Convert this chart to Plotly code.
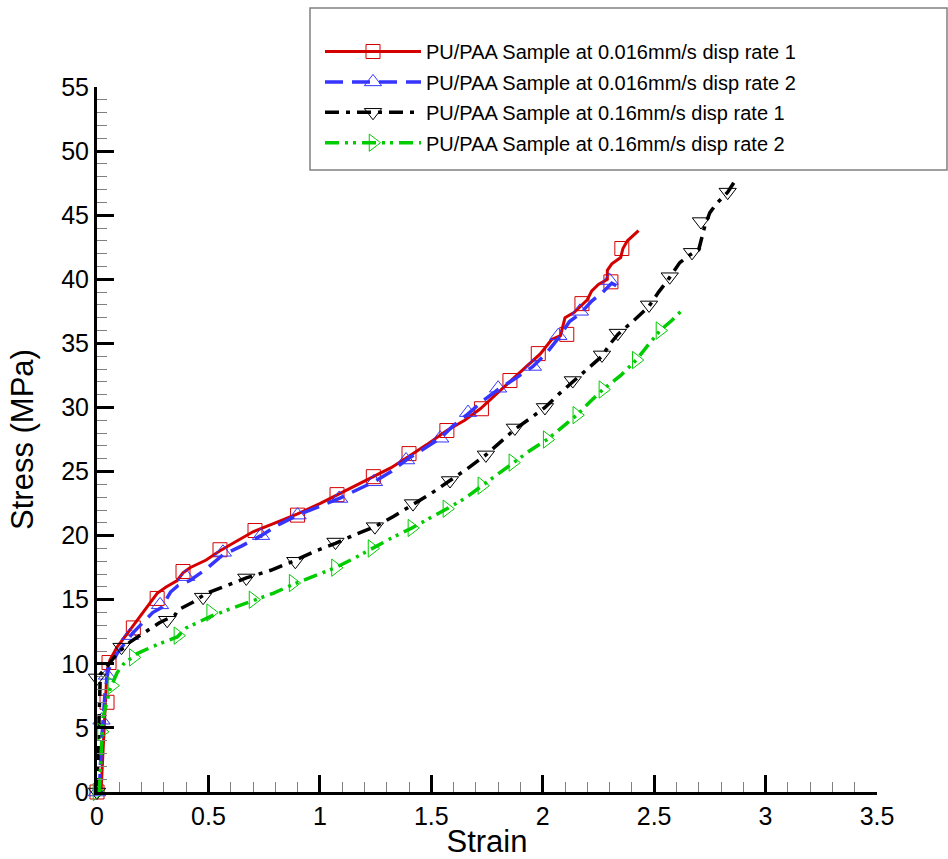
import plotly.graph_objects as go

# ---------------- data ----------------
names = [
    "PU/PAA Sample at 0.016mm/s disp rate 1",
    "PU/PAA Sample at 0.016mm/s disp rate 2",
    "PU/PAA Sample at 0.16mm/s disp rate 1",
    "PU/PAA Sample at 0.16mm/s disp rate 2",
]

red_strain = [0.018, 0.022, 0.027, 0.036, 0.045, 0.058, 0.09, 0.125, 0.16, 0.215, 0.27, 0.31, 0.36,
              0.386, 0.417, 0.49, 0.55, 0.62, 0.70, 0.80, 0.90, 1.00, 1.08, 1.16, 1.24, 1.32, 1.40,
              1.48, 1.57, 1.65, 1.72, 1.79, 1.85, 1.92, 1.99, 2.04, 2.08, 2.10, 2.14, 2.20, 2.22,
              2.25, 2.29, 2.29, 2.31, 2.35, 2.36, 2.38, 2.43]
red_stress = [0.0, 1.5, 3.5, 7.2, 9.5, 10.3, 11.3, 12.1, 12.9, 14.2, 15.5, 16.0, 16.5,
              17.1, 17.5, 18.1, 18.8, 19.5, 20.3, 21.0, 21.7, 22.5, 23.2, 23.9, 24.6, 25.3, 26.2,
              27.1, 28.2, 29.0, 29.9, 31.0, 32.0, 33.1, 34.2, 35.3, 35.6, 37.0, 37.4, 38.4, 39.1,
              39.6, 40.0, 40.7, 41.2, 41.7, 42.4, 43.0, 43.8]
red_mk_strain = [0.0, 0.045, 0.054, 0.163, 0.27, 0.386, 0.552, 0.709, 0.90, 1.077, 1.24, 1.40,
                 1.57, 1.725, 1.853, 1.98, 2.108, 2.176, 2.306, 2.355]
red_mk_stress = [0.0, 7.0, 10.1, 12.8, 15.1, 17.2, 18.9, 20.4, 21.6, 23.2, 24.6, 26.4,
                 28.2, 29.9, 32.1, 34.2, 35.7, 38.1, 39.8, 42.4]

blue_strain = [0.01, 0.02, 0.036, 0.05, 0.09, 0.16, 0.25, 0.29, 0.33, 0.363, 0.417, 0.49, 0.565,
               0.65, 0.736, 0.82, 0.90, 1.00, 1.087, 1.17, 1.243, 1.32, 1.387, 1.46, 1.54, 1.60,
               1.665, 1.73, 1.80, 1.88, 1.956, 2.02, 2.07, 2.12, 2.167, 2.22, 2.27, 2.31, 2.33]
blue_stress = [0.0, 3.8, 7.7, 9.5, 10.8, 12.4, 14.0, 14.4, 15.6, 16.1, 16.5, 17.4, 18.5,
               19.2, 20.0, 20.9, 21.6, 22.3, 22.9, 23.6, 24.2, 25.0, 25.9, 26.7, 27.6, 28.6,
               29.5, 30.5, 31.4, 32.3, 33.2, 34.3, 35.4, 36.7, 37.3, 38.3, 39.0, 39.7, 39.5]
blue_mk_strain = [0.0, 0.02, 0.045, 0.148, 0.283, 0.40, 0.565, 0.736, 0.90, 1.087, 1.243, 1.387,
                  1.54, 1.665, 1.80, 1.956, 2.07, 2.167, 2.30]
blue_mk_stress = [0.0, 5.6, 9.1, 12.2, 14.6, 16.8, 18.7, 20.0, 21.6, 22.9, 24.2, 25.9,
                  27.6, 29.6, 31.5, 33.2, 35.6, 37.5, 39.9]

black_strain = [0.0, 0.005, 0.01, 0.015, 0.045, 0.09, 0.148, 0.19, 0.28, 0.35, 0.363, 0.43, 0.49,
                0.58, 0.67, 0.78, 0.88, 0.98, 1.07, 1.16, 1.247, 1.33, 1.418, 1.50, 1.584, 1.66,
                1.745, 1.81, 1.875, 1.94, 2.01, 2.07, 2.135, 2.20, 2.266, 2.30, 2.337, 2.41, 2.477,
                2.52, 2.56, 2.615, 2.66, 2.70, 2.715, 2.728, 2.75, 2.78, 2.83, 2.86]
black_stress = [0.0, 4.0, 7.5, 9.2, 9.8, 10.8, 11.7, 12.2, 13.2, 13.8, 14.2, 14.8, 15.5,
                16.1, 16.7, 17.3, 18.0, 18.8, 19.4, 20.1, 20.7, 21.5, 22.4, 23.3, 24.3, 25.2,
                26.3, 27.3, 28.3, 29.1, 30.0, 31.0, 32.0, 33.0, 34.0, 34.9, 35.7, 36.8, 37.9,
                39.0, 39.9, 41.3, 41.9, 42.3, 43.3, 44.2, 45.2, 45.9, 46.8, 47.6]
black_mk_strain = [0.0, 0.0, 0.11, 0.315, 0.476, 0.67, 0.89, 1.07, 1.247, 1.418, 1.584, 1.745,
                   1.875, 2.01, 2.135, 2.266, 2.337, 2.477, 2.57, 2.67, 2.71, 2.83]
black_mk_stress = [0.0, 8.9, 11.3, 13.4, 15.2, 16.7, 18.0, 19.5, 20.7, 22.5, 24.3, 26.3,
                   28.4, 30.0, 32.1, 34.1, 35.8, 38.0, 40.2, 42.1, 44.5, 46.8]

green_strain = [0.01, 0.02, 0.027, 0.058, 0.09, 0.12, 0.18, 0.27, 0.36, 0.40, 0.46, 0.51, 0.60,
                0.70, 0.79, 0.88, 0.98, 1.07, 1.15, 1.234, 1.32, 1.413, 1.49, 1.57, 1.65, 1.727,
                1.80, 1.866, 1.94, 2.02, 2.09, 2.153, 2.21, 2.27, 2.35, 2.42, 2.47, 2.526, 2.58, 2.62]
green_stress = [0.0, 3.5, 5.8, 8.0, 9.3, 10.0, 10.8, 11.5, 12.1, 12.8, 13.3, 13.7, 14.3,
                14.9, 15.5, 16.2, 16.9, 17.5, 18.2, 19.0, 19.8, 20.6, 21.3, 22.1, 22.9, 23.9,
                24.8, 25.7, 26.6, 27.5, 28.5, 29.4, 30.4, 31.4, 32.5, 33.7, 34.8, 36.0, 36.8, 37.5]
green_mk_strain = [0.0, 0.02, 0.067, 0.163, 0.363, 0.51, 0.70, 0.88, 1.07, 1.234, 1.413, 1.57,
                   1.727, 1.866, 2.02, 2.153, 2.27, 2.42, 2.526]
green_mk_stress = [0.0, 4.7, 8.3, 10.5, 12.2, 14.0, 15.0, 16.3, 17.5, 19.0, 20.6, 22.1,
                   23.9, 25.7, 27.5, 29.4, 31.4, 33.7, 36.0]

x_range = [0, 3.5]
y_range = [0, 55]

# ---------------- styling ----------------
FONT = "Liberation Sans, Arial, Helvetica, sans-serif"
styles = [
    dict(color="#d40000", dash="solid", symbol="square-open", size=14, width=3),
    dict(color="#3535ff", dash="18px,9px", symbol="triangle-up-open", size=15, width=3.5),
    dict(color="#000000", dash="14px,7px,4px,7px", symbol="triangle-down-open", size=15, width=3.5),
    dict(color="#00cc00", dash="14px,6px,3px,5px,3px,6px", symbol="triangle-right-open", size=15, width=3.5),
]
lines = [(red_strain, red_stress), (blue_strain, blue_stress),
         (black_strain, black_stress), (green_strain, green_stress)]
marks = [(red_mk_strain, red_mk_stress), (blue_mk_strain, blue_mk_stress),
         (black_mk_strain, black_mk_stress), (green_mk_strain, green_mk_stress)]

fig = go.Figure()
for name, st, (lx, ly), (mx, my) in zip(names, styles, lines, marks):
    ln = dict(color=st["color"], width=st["width"], dash=st["dash"])
    mk = dict(symbol=st["symbol"], size=st["size"], color=st["color"],
              line=dict(width=1, color=st["color"]))
    fig.add_trace(go.Scatter(x=lx, y=ly, mode="lines", line=ln, showlegend=False,
                             legendgroup=name, hoverinfo="skip"))
    fig.add_trace(go.Scatter(x=mx, y=my, mode="markers", marker=mk, showlegend=False,
                             legendgroup=name, cliponaxis=False, hoverinfo="skip"))
    fig.add_trace(go.Scatter(x=[None], y=[None], mode="lines+markers", name=name,
                             line=ln, marker=mk, legendgroup=name))

W, H = 948, 859
L, R, T, B = 97, 71, 87, 67
pw, ph = W - L - R, H - T - B


def px2paper_x(px):
    return (px - L) / pw


def px2paper_y(py):
    return (H - B - py) / ph


fig.add_shape(type="rect", xref="paper", yref="paper",
              x0=px2paper_x(310), x1=px2paper_x(947), y0=px2paper_y(170), y1=px2paper_y(8),
              line=dict(color="#808080", width=1.5), fillcolor="rgba(0,0,0,0)", layer="above")

axis_common = dict(
    showline=True, linecolor="black", linewidth=3, mirror=False,
    ticks="inside", ticklen=17, tickwidth=3, tickcolor="black",
    showgrid=False, zeroline=False, tickfont=dict(size=25, color="black", family=FONT),
)
fig.update_xaxes(range=x_range, dtick=0.5, tick0=0,
                 minor=dict(dtick=0.1, ticks="inside", ticklen=10, tickwidth=1,
                            tickcolor="#808080", showgrid=False),
                 title=dict(text="Strain", font=dict(size=31, color="black", family=FONT), standoff=3),
                 **axis_common)
fig.update_yaxes(range=y_range, dtick=5, tick0=0,
                 minor=dict(dtick=1, ticks="inside", ticklen=10, tickwidth=1,
                            tickcolor="#808080", showgrid=False),
                 title=dict(text="Stress (MPa)", font=dict(size=31, color="black", family=FONT), standoff=19),
                 **axis_common)

fig.update_layout(
    width=W, height=H,
    margin=dict(l=L, r=R, t=T, b=B, autoexpand=False),
    paper_bgcolor="white", plot_bgcolor="white",
    font=dict(family=FONT, color="black"),
    showlegend=True,
    legend=dict(x=px2paper_x(320), y=px2paper_y(32), xanchor="left", yanchor="top",
                bgcolor="rgba(0,0,0,0)", borderwidth=0, itemwidth=96,
                font=dict(size=20, color="black", family=FONT), tracegroupgap=1.4,
                itemclick=False, itemdoubleclick=False),
)

fig.write_html("out.html")
